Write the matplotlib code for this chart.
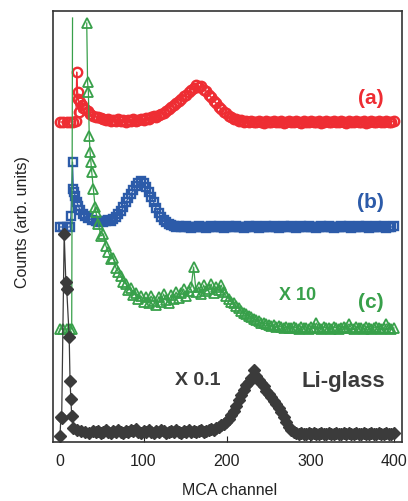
import numpy as np
import matplotlib
matplotlib.use("Agg")
import matplotlib.pyplot as plt

plt.rcParams['font.family'] = ['Liberation Sans', 'DejaVu Sans']

# MCA channels: hand-read points near the start, then every 3rd channel
ch_main = np.arange(43, 401, 3)

# (a) red circles, offset counts
a_ch_early = [0, 4, 8, 12, 16, 19, 20, 21, 22, 23, 24, 26, 28, 30, 33, 36, 40]
a_early = [320, 320, 320, 320, 320, 321, 370, 350, 343, 330, 340, 337, 334, 333, 331, 328, 326]
a_main = [325, 325, 324, 323, 322, 323, 321, 322, 321, 323, 321, 322, 320, 322, 321, 323, 321, 322, 323, 322,
          324, 323, 325, 326, 325, 327, 328, 329, 331, 333, 335, 337, 339, 341, 343, 346, 347, 350, 352, 354,
          357, 355, 356, 352, 351, 347, 345, 341, 339, 335, 333, 330, 329, 326, 325, 323, 323, 321, 322, 320,
          321, 320, 321, 320, 320, 321, 320, 319, 321, 320, 320, 321, 320, 320, 321, 319, 320, 321, 320, 320,
          321, 320, 319, 321, 320, 320, 321, 320, 320, 321, 319, 320, 321, 320, 320, 321, 320, 320, 321, 320,
          319, 321, 320, 320, 321, 320, 320, 321, 319, 320, 321, 320, 320, 321, 320, 320, 321, 320, 320, 321]

# (b) blue squares
b_ch_early = [0, 4, 8, 12, 13, 15, 16, 17, 18, 20, 22, 24, 27, 30, 34, 38]
b_early = [215, 215, 215, 215, 226, 280, 253, 250, 246, 240, 236, 232, 228, 226, 224, 222]
b_main = [221, 220, 221, 220, 221, 222, 221, 223, 225, 228, 231, 235, 240, 244, 248, 252, 256, 259, 261, 259,
          255, 250, 245, 240, 234, 229, 225, 222, 220, 218, 217, 216, 215, 216, 215, 215, 216, 215, 214, 215,
          215, 216, 215, 215, 214, 215, 216, 215, 215, 216, 215, 214, 215, 216, 215, 215, 216, 215, 215, 214,
          215, 216, 215, 215, 216, 214, 215, 215, 216, 215, 215, 216, 215, 214, 215, 216, 215, 215, 216, 215,
          214, 215, 216, 215, 215, 216, 215, 215, 214, 215, 216, 215, 215, 216, 215, 214, 215, 215, 216, 215,
          215, 216, 214, 215, 215, 216, 215, 215, 216, 214, 215, 215, 216, 215, 215, 216, 214, 215, 215, 216]

# (c) green triangles (X 10)
c_ch_early = [0, 4, 8, 12, 14, 15, 16, 32, 33, 34, 35, 36, 37, 38, 40, 42]
c_early = [113, 113, 113, 113, 113, 424, np.nan, 419, 360, 350, 306, 290, 280, 270, 253, 235]
c_main = [230, 218, 206, 208, 196, 190, 183, 184, 174, 170, 166, 160, 158, 152, 154, 147, 149, 143, 146, 140,
          145, 139, 146, 141, 137, 145, 140, 148, 142, 139, 147, 143, 150, 144, 149, 153, 146, 151, 155, 175,
          150, 155, 148, 157, 151, 153, 158, 149, 155, 152, 157, 150, 146, 143, 140, 139, 136, 134, 131, 129,
          128, 126, 125, 123, 122, 121, 119, 119, 118, 117, 116, 117, 115, 116, 115, 114, 115, 114, 114, 115,
          114, 113, 115, 114, 114, 113, 115, 114, 119, 114, 113, 115, 114, 114, 113, 115, 114, 113, 114, 115,
          114, 118, 114, 113, 115, 114, 114, 113, 115, 114, 113, 114, 115, 114, 113, 114, 118, 114, 113, 114]

# Li-glass, dark diamonds (X 0.1)
d_ch_early = [0, 1, 2, 5, 7, 8, 11, 12, 13, 14, 16, 20, 25, 30, 35, 40]
d_early = [6, 25, 24, 208, 160, 153, 105, 61, 43, 26, 14, 12, 11, 10, 9, 11]
d_main = [10, 11, 9, 10, 12, 10, 9, 11, 10, 12, 10, 9, 11, 10, 12, 11, 13, 10, 9, 11,
          10, 12, 10, 9, 11, 10, 12, 11, 9, 10, 11, 10, 12, 10, 9, 11, 10, 12, 10, 11,
          10, 11, 12, 10, 11, 12, 13, 12, 14, 15, 17, 18, 20, 23, 27, 31, 36, 42, 47, 52,
          57, 60, 64, 72, 66, 62, 59, 56, 51, 48, 45, 41, 38, 34, 30, 25, 20, 15, 12, 10,
          9, 8, 9, 8, 8, 9, 8, 9, 8, 8, 9, 8, 8, 9, 8, 8, 9, 8, 8, 9,
          8, 9, 8, 8, 9, 8, 8, 9, 8, 8, 9, 8, 8, 9, 8, 8, 9, 8, 8, 9]

RED = "#ee2d33"
BLUE = "#2c5ba9"
GREEN = "#38a04a"
DARK = "#3b3b3b"

fig = plt.figure(figsize=(4.08, 5.02), dpi=100)
ax = fig.add_axes([53 / 408, 59 / 502, 349 / 408, 431 / 502])

a_x = np.concatenate([a_ch_early, ch_main])
a_y = np.concatenate([a_early, a_main])
ax.plot(a_x, a_y, color=RED, lw=0.9, marker="o", ms=6.8, mfc="none", mew=1.7)

b_x = np.concatenate([b_ch_early, ch_main])
b_y = np.concatenate([b_early, b_main])
ax.plot(b_x, b_y, color=BLUE, lw=0.9, marker="s", ms=6, mfc="none", mew=1.7)

c_x = np.concatenate([c_ch_early, ch_main])
c_y = np.concatenate([c_early, c_main])
marks = [i for i in range(len(c_x)) if i != 5]
ax.plot(c_x, c_y, color=GREEN, lw=0.9, marker="^", ms=7.2, mfc="none", mew=1.3,
        markevery=marks)

d_x = np.concatenate([d_ch_early, ch_main])
d_y = np.concatenate([d_early, d_main])
ax.plot(d_x, d_y, color=DARK, lw=0.9, marker="D", ms=6.5, mfc=DARK, mec=DARK)

ax.text(372, 345, "(a)", color=RED, fontsize=15, fontweight="bold", ha="center", va="center")
ax.text(372, 241, "(b)", color=BLUE, fontsize=15, fontweight="bold", ha="center", va="center")
ax.text(372, 140, "(c)", color=GREEN, fontsize=15, fontweight="bold", ha="center", va="center")
ax.text(284, 147, "X 10", color=GREEN, fontsize=13, fontweight="bold", ha="center", va="center")
ax.text(165, 62, "X 0.1", color=DARK, fontsize=14, fontweight="bold", ha="center", va="center")
ax.text(339, 61, "Li-glass", color=DARK, fontsize=16, fontweight="bold", ha="center", va="center")

ax.set_xlim(-8.4, 409.6)
ax.set_ylim(0, 431)
ax.set_xticks([0, 100, 200, 300, 400])
ax.set_yticks([])
ax.tick_params(axis="x", direction="in", length=4, labelsize=11.5, pad=8, colors="#222222")
for s in ax.spines.values():
    s.set_color("#333333")
    s.set_linewidth(1.2)

ax.set_xlabel("MCA channel", fontsize=11.5, color="#222222")
ax.set_ylabel("Counts (arb. units)", fontsize=11.5, color="#222222")
ax.xaxis.set_label_coords(0.507, -0.093)
ax.yaxis.set_label_coords(-0.066, 0.513)

plt.savefig("out.png", dpi=100)
plt.close()
